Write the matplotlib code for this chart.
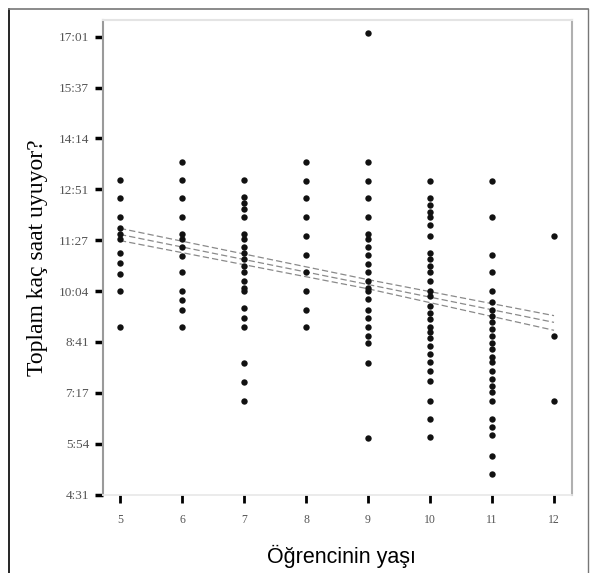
import matplotlib
matplotlib.use("Agg")
import matplotlib.pyplot as plt
from matplotlib.lines import Line2D
import numpy as np

# sleep time per pupil, minutes
ages = [5, 6, 7, 8, 9, 10, 11, 12]
sleep5 = [787, 756, 726, 708, 697, 689, 667, 651, 633, 604, 545]
sleep6 = [815, 786, 756, 726, 698, 689, 677, 661, 635, 604, 589, 574, 545]
sleep7 = [786, 759, 749, 739, 726, 697, 689, 677, 666, 656, 645, 635, 620,
          610, 604, 576, 560, 545, 486, 455, 424]
sleep8 = [815, 785, 756, 726, 694, 664, 635, 604, 574, 545]
sleep9 = [1027, 815, 785, 756, 726, 697, 689, 677, 663, 648, 635, 620, 610,
          604, 591, 574, 560, 545, 530, 520, 486, 363]
sleep10 = [785, 757, 746, 734, 725, 713, 694, 666, 656, 646, 635, 620, 605,
           596, 579, 568, 558, 546, 537, 527, 515, 501, 488, 473, 457, 424,
           394, 365]
sleep11 = [785, 726, 663, 635, 605, 586, 574, 563, 553, 542, 530, 520, 509,
           497, 488, 473, 460, 448, 439, 424, 394, 381, 368, 334, 305]
sleep12 = [694, 530, 424]
columns = [sleep5, sleep6, sleep7, sleep8, sleep9, sleep10, sleep11, sleep12]

# fit line and its confidence band, read at three ages
fit_x = [5, 9, 12]
fit_mid = [697, 615, 553]
fit_hi = [707, 623, 564]
fit_lo = [687, 608, 540]

ytick_vals = [271 + i * 250 / 3 for i in range(10)]
ytick_labels = ["4:31", "5:54", "7:17", "8:41", "10:04", "11:27",
                "12:51", "14:14", "15:37", "17:01"]

fig = plt.figure(figsize=(5.93, 5.73), dpi=100)
ax = fig.add_axes([103 / 593, 1 - 495 / 573, (572 - 103) / 593, (495 - 20) / 573])

for age, vals in zip(ages, columns):
    ax.plot([age] * len(vals), vals, 'o', color='#111111', markersize=4.6,
            markeredgewidth=0, zorder=3)

for yy in (fit_hi, fit_mid, fit_lo):
    ax.plot(fit_x, yy, color='#8a8a8a', linewidth=0.9, linestyle=(0, (5, 2.5)),
            zorder=2)

ax.set_xlim(4.726, 12.29)
ax.set_ylim(270.2, 1048.3)
ax.set_xticks(ages)
ax.set_xticklabels([str(a) for a in ages], fontfamily='Liberation Serif',
                   fontsize=8.5, color='#555555')
ax.set_yticks(ytick_vals)
ax.set_yticklabels(ytick_labels, fontfamily='Liberation Serif', fontsize=9.5,
                   color='#555555')
ax.tick_params(axis='y', direction='out', length=6, width=2.5, pad=4,
               color='black')
ax.tick_params(axis='x', direction='out', length=6, width=2, pad=8,
               color='black')

ax.spines['left'].set_color('#9a9a9a')
ax.spines['left'].set_linewidth(1.5)
ax.spines['right'].set_color('#b0b0b0')
ax.spines['right'].set_linewidth(1.5)
ax.spines['top'].set_color('#e4e4e4')
ax.spines['top'].set_linewidth(1.5)
ax.spines['bottom'].set_color('#e8e8e8')
ax.spines['bottom'].set_linewidth(1.2)

ax.set_ylabel("Toplam kaç saat uyuyor?", fontfamily='Liberation Serif',
              fontsize=17, labelpad=8)
fig.text(341 / 593, 1 - 556 / 573, "Öğrencinin yaşı", fontfamily='Liberation Sans',
         fontsize=15.5, ha='center', va='center')

# outer frame of the figure
fig.add_artist(Line2D([9 / 593, 9 / 593], [0, 1 - 9 / 573], transform=fig.transFigure,
                      color='black', linewidth=1.2))
fig.add_artist(Line2D([9 / 593, 588 / 593], [1 - 9 / 573, 1 - 9 / 573],
                      transform=fig.transFigure, color='#777777', linewidth=1.2))
fig.add_artist(Line2D([588 / 593, 588 / 593], [0, 1 - 9 / 573], transform=fig.transFigure,
                      color='#777777', linewidth=1.0))

fig.savefig("out.png", dpi=100)
